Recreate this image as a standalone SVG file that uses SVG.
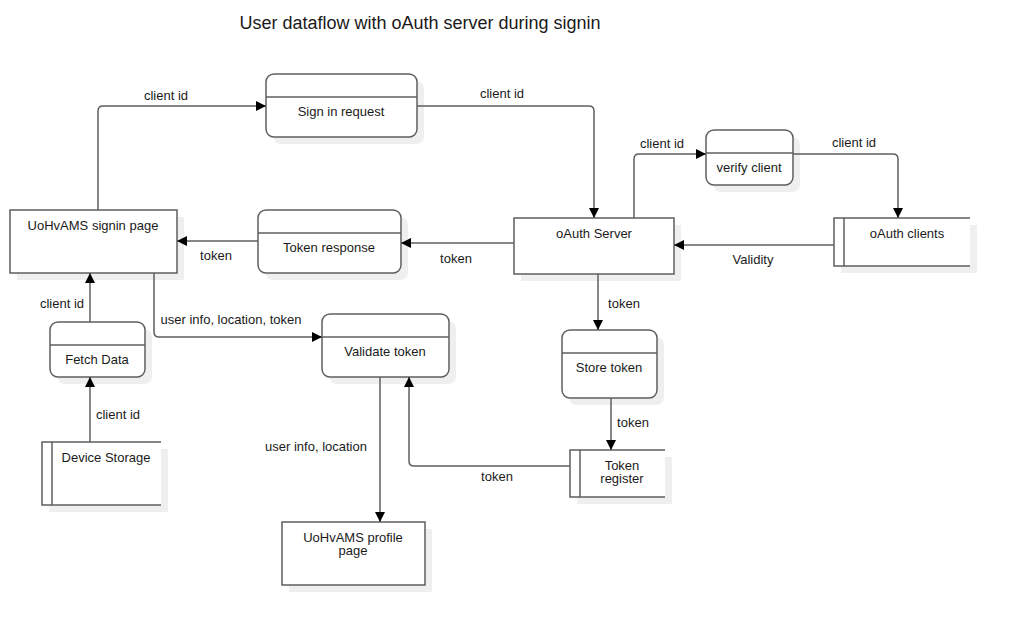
<svg xmlns="http://www.w3.org/2000/svg" width="1010" height="625" viewBox="0 0 1010 625">
<style>
.s{fill:#efefef;stroke:none}
.b{fill:#fff;stroke:#5f5f5f;stroke-width:1.5}
.l{fill:none;stroke:#5f5f5f;stroke-width:1.5}
.c{fill:none;stroke:#5f5f5f;stroke-width:1.5}
text{font-family:"Liberation Sans",Arial,sans-serif;font-size:13px;fill:#1a1a1a;text-anchor:middle}
.t{font-size:18px}
</style>
<defs>
<marker id="a" viewBox="0 0 10 10" refX="10" refY="5" markerWidth="10" markerHeight="10" markerUnits="userSpaceOnUse" orient="auto">
<path d="M0,0 L10,5 L0,10 Z" fill="#000"/>
</marker>
</defs>
<rect width="1010" height="625" fill="#fff"/>
<text class="t" x="420" y="29">User dataflow with oAuth server during signin</text>

<g id="sign-in-request">
<rect class="s" x="273" y="81" width="151" height="63" rx="8"/>
<rect class="b" x="266" y="74" width="151" height="63" rx="8"/>
<line class="l" x1="266" y1="97" x2="417" y2="97"/>
<text x="341" y="116">Sign in request</text>
</g>

<g id="signin-page">
<rect class="s" x="17" y="217" width="167" height="63"/>
<rect class="b" x="10" y="210" width="167" height="63"/>
<text x="93" y="230">UoHvAMS signin page</text>
</g>

<g id="token-response">
<rect class="s" x="265" y="217" width="143" height="63" rx="8"/>
<rect class="b" x="258" y="210" width="143" height="63" rx="8"/>
<line class="l" x1="258" y1="233" x2="401" y2="233"/>
<text x="329" y="252">Token response</text>
</g>

<g id="oauth-server">
<rect class="s" x="521" y="225" width="160" height="56"/>
<rect class="b" x="514" y="218" width="160" height="56"/>
<text x="594" y="238">oAuth Server</text>
</g>

<g id="verify-client">
<rect class="s" x="713" y="137" width="87" height="55" rx="8"/>
<rect class="b" x="706" y="130" width="87" height="55" rx="8"/>
<line class="l" x1="706" y1="153" x2="793" y2="153"/>
<text x="749" y="172">verify client</text>
</g>

<g id="oauth-clients">
<rect class="s" x="841" y="225" width="136" height="48"/>
<rect x="834" y="218" width="136" height="48" fill="#fff"/>
<path class="l" d="M970,218 H834 V266 H970 M844,218 V266"/>
<text x="907" y="238">oAuth clients</text>
</g>

<g id="fetch-data">
<rect class="s" x="57" y="329" width="95" height="55" rx="8"/>
<rect class="b" x="50" y="322" width="95" height="55" rx="8"/>
<line class="l" x1="50" y1="345" x2="145" y2="345"/>
<text x="97" y="364">Fetch Data</text>
</g>

<g id="device-storage">
<rect class="s" x="49" y="449" width="119" height="63"/>
<rect x="42" y="442" width="119" height="63" fill="#fff"/>
<path class="l" d="M161,442 H42 V505 H161 M52,442 V505"/>
<text x="106" y="462">Device Storage</text>
</g>

<g id="validate-token">
<rect class="s" x="329" y="321" width="127" height="63" rx="8"/>
<rect class="b" x="322" y="314" width="127" height="63" rx="8"/>
<line class="l" x1="322" y1="337" x2="449" y2="337"/>
<text x="385" y="356">Validate token</text>
</g>

<g id="profile-page">
<rect class="s" x="289" y="529" width="143" height="63"/>
<rect class="b" x="282" y="522" width="143" height="63"/>
<text x="353" y="542">UoHvAMS profile</text>
<text x="353" y="555">page</text>
</g>

<g id="store-token">
<rect class="s" x="569" y="337" width="95" height="68" rx="8"/>
<rect class="b" x="562" y="330" width="95" height="68" rx="8"/>
<line class="l" x1="562" y1="353" x2="657" y2="353"/>
<text x="609" y="372">Store token</text>
</g>

<g id="token-register">
<rect class="s" x="577" y="457" width="95" height="47"/>
<rect x="570" y="450" width="95" height="47" fill="#fff"/>
<path class="l" d="M665,450 H570 V497 H665 M580,450 V497"/>
<text x="622" y="470">Token</text>
<text x="622" y="483">register</text>
</g>

<g id="connectors">
<path class="c" d="M98,210 V111 Q98,106 103,106 H266" marker-end="url(#a)"/>
<text x="166" y="100">client id</text>
<path class="c" d="M417,106 H589 Q594,106 594,111 V218" marker-end="url(#a)"/>
<text x="502" y="98">client id</text>
<path class="c" d="M514,243 H401" marker-end="url(#a)"/>
<text x="456" y="263">token</text>
<path class="c" d="M258,241 H177" marker-end="url(#a)"/>
<text x="216" y="260">token</text>
<path class="c" d="M634,218 V159 Q634,154 639,154 H706" marker-end="url(#a)"/>
<text x="662" y="148">client id</text>
<path class="c" d="M793,154 H893 Q898,154 898,159 V218" marker-end="url(#a)"/>
<text x="854" y="147">client id</text>
<path class="c" d="M834,245 H674" marker-end="url(#a)"/>
<text x="753" y="264">Validity</text>
<path class="c" d="M598,274 V330" marker-end="url(#a)"/>
<text x="624" y="308">token</text>
<path class="c" d="M611,398 V450" marker-end="url(#a)"/>
<text x="633" y="427">token</text>
<path class="c" d="M570,466 H414 Q409,466 409,461 V377" marker-end="url(#a)"/>
<text x="497" y="481">token</text>
<path class="c" d="M380,377 V522" marker-end="url(#a)"/>
<text x="316" y="451">user info, location</text>
<path class="c" d="M154,273 V332 Q154,337 159,337 H322" marker-end="url(#a)"/>
<text x="231" y="324">user info, location, token</text>
<path class="c" d="M90,322 V273" marker-end="url(#a)"/>
<text x="62" y="308">client id</text>
<path class="c" d="M90,442 V377" marker-end="url(#a)"/>
<text x="118" y="419">client id</text>
</g>
</svg>
